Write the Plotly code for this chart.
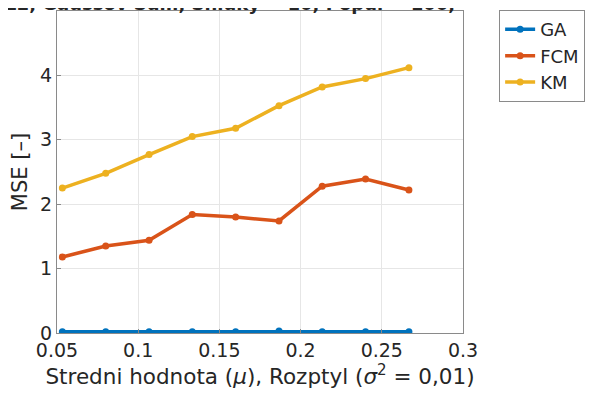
import plotly.graph_objects as go

x_vals = [0.0533, 0.0800, 0.1067, 0.1333, 0.1600, 0.1867, 0.2133, 0.2400, 0.2667]
ga = [0.02, 0.02, 0.02, 0.02, 0.02, 0.03, 0.02, 0.02, 0.02]
fcm = [1.18, 1.35, 1.44, 1.84, 1.80, 1.74, 2.28, 2.39, 2.22]
km = [2.25, 2.48, 2.77, 3.05, 3.18, 3.53, 3.82, 3.95, 4.12]
names = ["GA", "FCM", "KM"]
colors = ["#0072BD", "#D95319", "#EDB120"]
x_ticks = [0.05, 0.1, 0.15, 0.2, 0.25, 0.3]
x_ticklabels = ["0.05", "0.1", "0.15", "0.2", "0.25", "0.3"]
y_ticks = [0, 1, 2, 3, 4, 5]

# the page body keeps its default 8px margin; keep the figure small enough
# that the page never overflows the 595x401 window (no scrollbars)
OFF = 8
W, H = 595 - 2 * OFF, 401 - 2 * OFF - 4
ml, mt = 57 - OFF, 10 - OFF
mr = W - (484 - OFF)
mb = H - (333 - OFF)
pw = W - ml - mr

fig = go.Figure()
for name, ys, c in zip(names, [ga, fcm, km], colors):
    fig.add_trace(go.Scatter(x=x_vals, y=ys, name=name, mode="lines+markers",
                             line=dict(color=c, width=3.5),
                             marker=dict(color=c, size=7)))

font = "DejaVu Sans"
axis_common = dict(showline=True, linecolor="#8a8a8a", linewidth=1, mirror=True,
                   showgrid=True, gridcolor="#e6e6e6", gridwidth=1,
                   ticks="inside", ticklen=4, tickcolor="#8a8a8a",
                   zeroline=False, automargin=False,
                   tickfont=dict(family=font, size=19, color="#262626"))

fig.update_layout(
    width=W, height=H,
    margin=dict(l=ml, r=mr, t=mt, b=mb),
    paper_bgcolor="white", plot_bgcolor="white",
    font=dict(family=font, color="#262626"),
    xaxis=dict(range=[0.05, 0.3], tickvals=x_ticks, ticktext=x_ticklabels,
               title=dict(text="Stredni hodnota (<i>μ</i>), Rozptyl (<i>σ</i><sup>2</sup> = 0,01)",
                          font=dict(family=font, size=21.5)),
               **axis_common),
    yaxis=dict(range=[0, 5], tickvals=y_ticks,
               title=dict(text="MSE [–]", font=dict(family=font, size=21)),
               **axis_common),
    legend=dict(x=(522 - OFF - ml) / pw, y=1.003, xanchor="left", yanchor="top",
                bgcolor="white", bordercolor="#8a8a8a", borderwidth=1,
                font=dict(family=font, size=18, color="#262626"),
                itemwidth=30, tracegroupgap=0),
    showlegend=True,
)

fig.add_annotation(text="<b>Obraz2, Gaussov Sum, Shluky = 10, Popul = 100,</b>",
                   xref="paper", yref="paper", x=(478 - OFF - ml) / pw, y=1,
                   xanchor="right", yanchor="bottom", yshift=-5, showarrow=False,
                   font=dict(family=font, size=18, color="#262626"))

fig.write_html("out.html", config={"displayModeBar": False})
